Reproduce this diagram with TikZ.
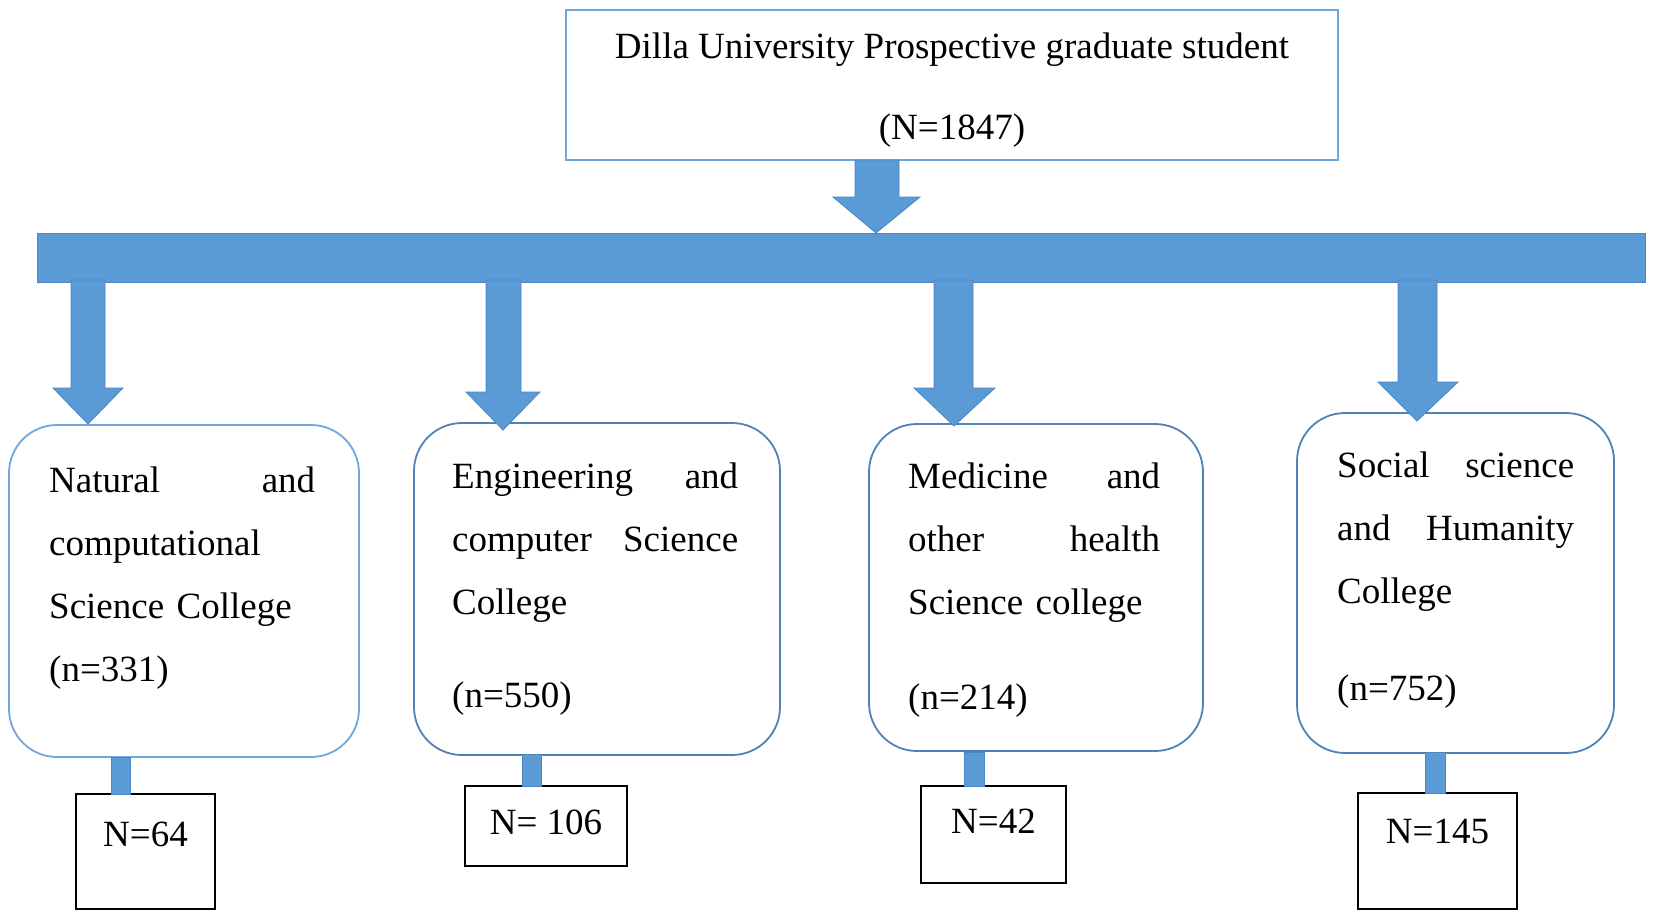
\documentclass[tikz,border=0pt]{standalone}
\usepackage{fontspec}
\setmainfont{Liberation Serif}
\definecolor{blk}{HTML}{5B9BD5}
\definecolor{blkedge}{HTML}{4A86C2}
\definecolor{lightedge}{HTML}{70A8DC}
\definecolor{darkedge}{HTML}{5082B5}
\tikzset{
  txt/.style={font=\fontsize{37}{63}\selectfont, inner sep=0pt},
  topbox/.style={draw=lightedge, line width=1.6pt, fill=white},
  rbox/.style={line width=1.8pt, rounded corners=48pt, fill=white},
  ctext/.style={txt, anchor=base west, align=left},
  sbox/.style={draw=black, line width=1.8pt, fill=white},
  barbox/.style={fill=blk, draw=blkedge, line width=0.8pt},
  blockarr/.style={fill=blk, draw=blkedge, line width=0.8pt, line join=miter},
}
\begin{document}
\begin{tikzpicture}[x=1pt,y=-1pt]
\useasboundingbox (0,0) rectangle (1654,921);
\fill[white] (0,0) rectangle (1654,921);

% top box
\node[topbox, minimum width=772pt, minimum height=150pt] (top) at (952,85) {};
\node[txt, anchor=base, align=center] (toptext) at (952,139)
  {Dilla University Prospective graduate student\\[18pt](N=1847)};

% horizontal bar
\node[barbox, minimum width=1608pt, minimum height=49pt, inner sep=0pt] (bar) at (841,257.5) {};

% college boxes
\node[rbox, draw=lightedge, minimum width=350pt, minimum height=332pt] (c1) at (184,591) {};
\node[rbox, draw=darkedge, minimum width=366pt, minimum height=332pt] (c2) at (597,589) {};
\node[rbox, draw=darkedge, minimum width=334pt, minimum height=327pt] (c3) at (1036,587.5) {};
\node[rbox, draw=darkedge, minimum width=317pt, minimum height=340pt] (c4) at (1455.5,583) {};

% block arrows
\draw[blockarr] (855,160) -- (899,160) -- (899,197) -- (920,197) -- (876,233) -- (833,197) -- (855,197) -- cycle;
\draw[blockarr] (71,280) -- (105,280) -- (105,388) -- (123,388) -- (88,424) -- (53,388) -- (71,388) -- cycle;
\draw[blockarr] (486,280) -- (521,280) -- (521,392) -- (540,392) -- (503,430) -- (466,392) -- (486,392) -- cycle;
\draw[blockarr] (934,280) -- (973,280) -- (973,388) -- (995,388) -- (954,426) -- (914,388) -- (934,388) -- cycle;
\draw[blockarr] (1398,280) -- (1437,280) -- (1437,382) -- (1458,382) -- (1417,421) -- (1378,382) -- (1398,382) -- cycle;

% college texts
\node[ctext, text width=266pt] (t1) at (49,492)
  {Natural\hfill and\\computational\\Science College\\(n=331)};
\node[ctext, text width=286pt] (t2) at (452,488)
  {Engineering\hfill and\\computer\hfill Science\\College\\[30pt](n=550)};
\node[ctext, text width=252pt] (t3) at (908,488)
  {Medicine\hfill and\\other\hfill health\\Science college\\[32pt](n=214)};
\node[ctext, text width=237pt] (t4) at (1337,477)
  {Social\hfill science\\and\hfill Humanity\\College\\[34pt](n=752)};

% small boxes
\node[sbox, minimum width=139pt, minimum height=115pt] (s1) at (145.5,851.5) {};
\node[sbox, minimum width=162pt, minimum height=80pt] (s2) at (546,826) {};
\node[sbox, minimum width=145pt, minimum height=97pt] (s3) at (993.5,834.5) {};
\node[sbox, minimum width=159pt, minimum height=116pt] (s4) at (1437.5,851) {};

% small connectors
\draw[barbox] (111,757) rectangle (130,794);
\draw[barbox] (522,754) rectangle (541,786);
\draw[barbox] (964,752) rectangle (984,786);
\draw[barbox] (1425,752) rectangle (1445,793);

% small box texts
\node[txt, anchor=base] (n1) at (s1.center |- 0,846) {N=64};
\node[txt, anchor=base] (n2) at (s2.center |- 0,834) {N= 106};
\node[txt, anchor=base] (n3) at (s3.center |- 0,833) {N=42};
\node[txt, anchor=base] (n4) at (s4.center |- 0,843) {N=145};
\end{tikzpicture}
\end{document}
